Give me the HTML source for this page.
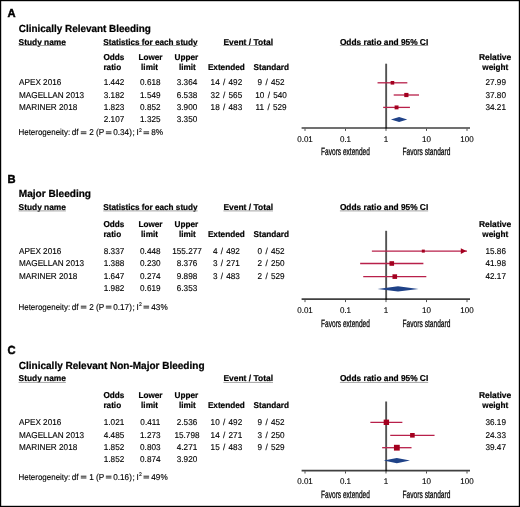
<!DOCTYPE html>
<html><head><meta charset="utf-8"><style>
html,body{margin:0;padding:0;background:#fff;}
svg{display:block;will-change:transform;font-family:"Liberation Sans",sans-serif;}
text{stroke:#000;stroke-width:0.12px;text-rendering:geometricPrecision;}
text[font-weight=bold]{stroke-width:0.2px;}
</style></head><body>
<svg width="520" height="507" viewBox="0 0 520 507">
<rect x="0" y="0" width="520" height="507" fill="#fff"/>
<text transform="translate(7.6,17.4) scale(1,1.042)" font-size="11.2" font-weight="bold" style="stroke-width:0.45px" fill="#000">A</text>
<text transform="translate(18.8,31.9) scale(1,1.042)" font-size="9.9" font-weight="bold" textLength="132.1" lengthAdjust="spacingAndGlyphs" style="stroke-width:0.22px" fill="#000">Clinically Relevant Bleeding</text>
<text transform="translate(18.6,44.5) scale(1,1.042)" font-size="8.2" font-weight="bold" textLength="47.3" lengthAdjust="spacingAndGlyphs" fill="#000">Study name</text>
<line x1="18.6" y1="45.5" x2="65.9" y2="45.5" stroke="#999" stroke-width="0.9"/>
<text transform="translate(103.3,44.5) scale(1,1.042)" font-size="8.2" font-weight="bold" textLength="94.3" lengthAdjust="spacingAndGlyphs" fill="#000">Statistics for each study</text>
<line x1="103.3" y1="45.5" x2="197.6" y2="45.5" stroke="#999" stroke-width="0.9"/>
<text transform="translate(223.4,44.5) scale(1,1.042)" font-size="8.2" font-weight="bold" textLength="49.6" lengthAdjust="spacingAndGlyphs" fill="#000">Event / Total</text>
<line x1="223.4" y1="45.5" x2="273.0" y2="45.5" stroke="#999" stroke-width="0.9"/>
<text transform="translate(339.9,44.5) scale(1,1.042)" font-size="8.2" font-weight="bold" textLength="88.3" lengthAdjust="spacingAndGlyphs" fill="#000">Odds ratio and 95% CI</text>
<line x1="339.9" y1="45.5" x2="428.2" y2="45.5" stroke="#999" stroke-width="0.9"/>
<text transform="translate(103.4,60) scale(1,1.042)" font-size="8.2" font-weight="bold" fill="#000">Odds</text>
<text transform="translate(103.4,69.9) scale(1,1.042)" font-size="8.2" font-weight="bold" fill="#000">ratio</text>
<text transform="translate(150.5,60) scale(1,1.042)" font-size="8.2" font-weight="bold" text-anchor="middle" fill="#000">Lower</text>
<text transform="translate(149.5,69.9) scale(1,1.042)" font-size="8.2" font-weight="bold" text-anchor="middle" fill="#000">limit</text>
<text transform="translate(186.4,60) scale(1,1.042)" font-size="8.2" font-weight="bold" text-anchor="middle" fill="#000">Upper</text>
<text transform="translate(187.3,69.9) scale(1,1.042)" font-size="8.2" font-weight="bold" text-anchor="middle" fill="#000">limit</text>
<text transform="translate(226.3,69.9) scale(1,1.042)" font-size="8.2" font-weight="bold" text-anchor="middle" fill="#000">Extended</text>
<text transform="translate(271.3,69.9) scale(1,1.042)" font-size="8.2" font-weight="bold" text-anchor="middle" fill="#000">Standard</text>
<text transform="translate(495.1,60) scale(1,1.042)" font-size="8.2" font-weight="bold" text-anchor="middle" textLength="32.2" lengthAdjust="spacingAndGlyphs" fill="#000">Relative</text>
<text transform="translate(495.3,69.9) scale(1,1.042)" font-size="8.2" font-weight="bold" text-anchor="middle" fill="#000">weight</text>
<text transform="translate(19.0,85.3) scale(1,1.042)" font-size="8.2" fill="#000">APEX 2016</text>
<text transform="translate(114,85.3) scale(1,1.042)" font-size="8.2" text-anchor="middle" fill="#000">1.442</text>
<text transform="translate(150.3,85.3) scale(1,1.042)" font-size="8.2" text-anchor="middle" fill="#000">0.618</text>
<text transform="translate(187,85.3) scale(1,1.042)" font-size="8.2" text-anchor="middle" fill="#000">3.364</text>
<text transform="translate(226.4,85.3) scale(1,1.042)" font-size="8.2" text-anchor="middle" word-spacing="1" fill="#000">14 / 492</text>
<text transform="translate(271.1,85.3) scale(1,1.042)" font-size="8.2" text-anchor="middle" word-spacing="1" fill="#000">9 / 452</text>
<text transform="translate(495.7,85.3) scale(1,1.042)" font-size="8.2" text-anchor="middle" fill="#000">27.99</text>
<text transform="translate(19.0,97.8) scale(1,1.042)" font-size="8.2" fill="#000">MAGELLAN 2013</text>
<text transform="translate(114,97.8) scale(1,1.042)" font-size="8.2" text-anchor="middle" fill="#000">3.182</text>
<text transform="translate(150.3,97.8) scale(1,1.042)" font-size="8.2" text-anchor="middle" fill="#000">1.549</text>
<text transform="translate(187,97.8) scale(1,1.042)" font-size="8.2" text-anchor="middle" fill="#000">6.538</text>
<text transform="translate(226.4,97.8) scale(1,1.042)" font-size="8.2" text-anchor="middle" word-spacing="1" fill="#000">32 / 565</text>
<text transform="translate(271.1,97.8) scale(1,1.042)" font-size="8.2" text-anchor="middle" word-spacing="1" fill="#000">10 / 540</text>
<text transform="translate(495.7,97.8) scale(1,1.042)" font-size="8.2" text-anchor="middle" fill="#000">37.80</text>
<text transform="translate(19.0,109.9) scale(1,1.042)" font-size="8.2" fill="#000">MARINER 2018</text>
<text transform="translate(114,109.9) scale(1,1.042)" font-size="8.2" text-anchor="middle" fill="#000">1.823</text>
<text transform="translate(150.3,109.9) scale(1,1.042)" font-size="8.2" text-anchor="middle" fill="#000">0.852</text>
<text transform="translate(187,109.9) scale(1,1.042)" font-size="8.2" text-anchor="middle" fill="#000">3.900</text>
<text transform="translate(226.4,109.9) scale(1,1.042)" font-size="8.2" text-anchor="middle" word-spacing="1" fill="#000">18 / 483</text>
<text transform="translate(271.1,109.9) scale(1,1.042)" font-size="8.2" text-anchor="middle" word-spacing="1" fill="#000">11 / 529</text>
<text transform="translate(495.7,109.9) scale(1,1.042)" font-size="8.2" text-anchor="middle" fill="#000">34.21</text>
<text transform="translate(114,122.3) scale(1,1.042)" font-size="8.2" text-anchor="middle" fill="#000">2.107</text>
<text transform="translate(150.3,122.3) scale(1,1.042)" font-size="8.2" text-anchor="middle" fill="#000">1.325</text>
<text transform="translate(187,122.3) scale(1,1.042)" font-size="8.2" text-anchor="middle" fill="#000">3.350</text>
<text transform="translate(18.45,135.2) scale(1,1.042)" font-size="8.2" textLength="51.8" lengthAdjust="spacingAndGlyphs" fill="#000">Heterogeneity:</text>
<text transform="translate(71.7,135.2) scale(1,1.042)" font-size="8.2" fill="#000">df</text>
<text transform="translate(91.5,135.2) scale(1,1.042)" font-size="8.2" text-anchor="middle" fill="#000">2</text>
<text transform="translate(95.9,135.2) scale(1,1.042)" font-size="8.2" fill="#000">(P</text>
<text transform="translate(113.2,135.2) scale(1,1.042)" font-size="8.2" fill="#000">0.34)</text>
<text transform="translate(132.5,135.2) scale(1,1.042)" font-size="8.2" fill="#000">;</text>
<text transform="translate(136.6,135.2) scale(1,1.042)" font-size="8.2" fill="#000">I</text>
<text transform="translate(140.35,131.89999999999998) scale(1,1.042)" font-size="5.0" text-anchor="middle" fill="#000">2</text>
<text transform="translate(151.3,135.2) scale(1,1.042)" font-size="8.2" fill="#000">8%</text>
<rect x="80.80" y="131.20" width="5.6" height="1.3" fill="#555"/>
<rect x="80.80" y="132.90" width="5.6" height="1.3" fill="#555"/>
<rect x="105.85" y="131.20" width="5.6" height="1.3" fill="#555"/>
<rect x="105.85" y="132.90" width="5.6" height="1.3" fill="#555"/>
<rect x="143.50" y="131.20" width="5.6" height="1.3" fill="#555"/>
<rect x="143.50" y="132.90" width="5.6" height="1.3" fill="#555"/>
<line x1="386.15" y1="63.7" x2="386.15" y2="128.7" stroke="#000" stroke-width="1.9" stroke-opacity="0.68"/>
<line x1="301.6" y1="128" x2="470" y2="128" stroke="#000" stroke-width="1.7" stroke-opacity="0.75"/>
<line x1="305.0" y1="128.85" x2="305.0" y2="130.9" stroke="#000" stroke-width="1.0" stroke-opacity="0.7"/>
<text transform="translate(305.0,141.6) scale(1,1.042)" font-size="8.0" text-anchor="middle" fill="#000">0.01</text>
<line x1="345.5" y1="128.85" x2="345.5" y2="130.9" stroke="#000" stroke-width="1.0" stroke-opacity="0.7"/>
<text transform="translate(345.5,141.6) scale(1,1.042)" font-size="8.0" text-anchor="middle" fill="#000">0.1</text>
<line x1="386.0" y1="128.85" x2="386.0" y2="130.9" stroke="#000" stroke-width="1.0" stroke-opacity="0.7"/>
<text transform="translate(386.0,141.6) scale(1,1.042)" font-size="8.0" text-anchor="middle" fill="#000">1</text>
<line x1="426.5" y1="128.85" x2="426.5" y2="130.9" stroke="#000" stroke-width="1.0" stroke-opacity="0.7"/>
<text transform="translate(426.5,141.6) scale(1,1.042)" font-size="8.0" text-anchor="middle" fill="#000">10</text>
<line x1="467.0" y1="128.85" x2="467.0" y2="130.9" stroke="#000" stroke-width="1.0" stroke-opacity="0.7"/>
<text transform="translate(467.0,141.6) scale(1,1.042)" font-size="8.0" text-anchor="middle" fill="#000">100</text>
<text transform="translate(345.5,155.0) scale(1,1.042)" font-size="10.2" text-anchor="middle" textLength="48.8" lengthAdjust="spacingAndGlyphs" style="stroke-width:0.25px" fill="#000">Favors extended</text>
<text transform="translate(426.5,155.0) scale(1,1.042)" font-size="10.2" text-anchor="middle" textLength="47.9" lengthAdjust="spacingAndGlyphs" style="stroke-width:0.25px" fill="#000">Favors standard</text>
<line x1="377.53503324109704" y1="82.8" x2="407.3376674785979" y2="82.8" stroke="#b8204a" stroke-width="1.3"/>
<rect x="390.64" y="81.00" width="3.6" height="3.6" fill="#a3001f"/>
<line x1="393.69708241924786" y1="95" x2="419.0255191078962" y2="95" stroke="#b8204a" stroke-width="1.3"/>
<rect x="404.26" y="92.90" width="4.2" height="4.2" fill="#a3001f"/>
<line x1="383.18280358805134" y1="107.4" x2="409.9381165845732" y2="107.4" stroke="#b8204a" stroke-width="1.3"/>
<rect x="394.61" y="105.45" width="3.9" height="3.9" fill="#a3001f"/>
<path d="M390.95,119.5 L399.11,116.9 L407.26,119.5 L399.11,122.1 Z" fill="#1f4288"/>
<text transform="translate(7.6,182.9) scale(1,1.042)" font-size="11.2" font-weight="bold" style="stroke-width:0.45px" fill="#000">B</text>
<text transform="translate(18.8,197.3) scale(1,1.042)" font-size="9.9" font-weight="bold" textLength="72.2" lengthAdjust="spacingAndGlyphs" style="stroke-width:0.22px" fill="#000">Major Bleeding</text>
<text transform="translate(18.6,209.9) scale(1,1.042)" font-size="8.2" font-weight="bold" textLength="47.3" lengthAdjust="spacingAndGlyphs" fill="#000">Study name</text>
<line x1="18.6" y1="210.9" x2="65.9" y2="210.9" stroke="#999" stroke-width="0.9"/>
<text transform="translate(103.3,209.9) scale(1,1.042)" font-size="8.2" font-weight="bold" textLength="94.3" lengthAdjust="spacingAndGlyphs" fill="#000">Statistics for each study</text>
<line x1="103.3" y1="210.9" x2="197.6" y2="210.9" stroke="#999" stroke-width="0.9"/>
<text transform="translate(223.4,209.9) scale(1,1.042)" font-size="8.2" font-weight="bold" textLength="49.6" lengthAdjust="spacingAndGlyphs" fill="#000">Event / Total</text>
<line x1="223.4" y1="210.9" x2="273.0" y2="210.9" stroke="#999" stroke-width="0.9"/>
<text transform="translate(339.9,209.9) scale(1,1.042)" font-size="8.2" font-weight="bold" textLength="88.3" lengthAdjust="spacingAndGlyphs" fill="#000">Odds ratio and 95% CI</text>
<line x1="339.9" y1="210.9" x2="428.2" y2="210.9" stroke="#999" stroke-width="0.9"/>
<text transform="translate(103.4,226.8) scale(1,1.042)" font-size="8.2" font-weight="bold" fill="#000">Odds</text>
<text transform="translate(103.4,236.5) scale(1,1.042)" font-size="8.2" font-weight="bold" fill="#000">ratio</text>
<text transform="translate(150.5,226.8) scale(1,1.042)" font-size="8.2" font-weight="bold" text-anchor="middle" fill="#000">Lower</text>
<text transform="translate(149.5,236.5) scale(1,1.042)" font-size="8.2" font-weight="bold" text-anchor="middle" fill="#000">limit</text>
<text transform="translate(186.4,226.8) scale(1,1.042)" font-size="8.2" font-weight="bold" text-anchor="middle" fill="#000">Upper</text>
<text transform="translate(187.3,236.5) scale(1,1.042)" font-size="8.2" font-weight="bold" text-anchor="middle" fill="#000">limit</text>
<text transform="translate(226.3,236.5) scale(1,1.042)" font-size="8.2" font-weight="bold" text-anchor="middle" fill="#000">Extended</text>
<text transform="translate(271.3,236.5) scale(1,1.042)" font-size="8.2" font-weight="bold" text-anchor="middle" fill="#000">Standard</text>
<text transform="translate(495.1,226.8) scale(1,1.042)" font-size="8.2" font-weight="bold" text-anchor="middle" textLength="32.2" lengthAdjust="spacingAndGlyphs" fill="#000">Relative</text>
<text transform="translate(495.3,236.5) scale(1,1.042)" font-size="8.2" font-weight="bold" text-anchor="middle" fill="#000">weight</text>
<text transform="translate(19.0,254.2) scale(1,1.042)" font-size="8.2" fill="#000">APEX 2016</text>
<text transform="translate(114,254.2) scale(1,1.042)" font-size="8.2" text-anchor="middle" fill="#000">8.337</text>
<text transform="translate(150.3,254.2) scale(1,1.042)" font-size="8.2" text-anchor="middle" fill="#000">0.448</text>
<text transform="translate(187,254.2) scale(1,1.042)" font-size="8.2" text-anchor="middle" fill="#000">155.277</text>
<text transform="translate(226.4,254.2) scale(1,1.042)" font-size="8.2" text-anchor="middle" word-spacing="1" fill="#000">4 / 492</text>
<text transform="translate(271.1,254.2) scale(1,1.042)" font-size="8.2" text-anchor="middle" word-spacing="1" fill="#000">0 / 452</text>
<text transform="translate(495.7,254.2) scale(1,1.042)" font-size="8.2" text-anchor="middle" fill="#000">15.86</text>
<text transform="translate(19.0,266.4) scale(1,1.042)" font-size="8.2" fill="#000">MAGELLAN 2013</text>
<text transform="translate(114,266.4) scale(1,1.042)" font-size="8.2" text-anchor="middle" fill="#000">1.388</text>
<text transform="translate(150.3,266.4) scale(1,1.042)" font-size="8.2" text-anchor="middle" fill="#000">0.230</text>
<text transform="translate(187,266.4) scale(1,1.042)" font-size="8.2" text-anchor="middle" fill="#000">8.376</text>
<text transform="translate(226.4,266.4) scale(1,1.042)" font-size="8.2" text-anchor="middle" word-spacing="1" fill="#000">3 / 271</text>
<text transform="translate(271.1,266.4) scale(1,1.042)" font-size="8.2" text-anchor="middle" word-spacing="1" fill="#000">2 / 250</text>
<text transform="translate(495.7,266.4) scale(1,1.042)" font-size="8.2" text-anchor="middle" fill="#000">41.98</text>
<text transform="translate(19.0,278.8) scale(1,1.042)" font-size="8.2" fill="#000">MARINER 2018</text>
<text transform="translate(114,278.8) scale(1,1.042)" font-size="8.2" text-anchor="middle" fill="#000">1.647</text>
<text transform="translate(150.3,278.8) scale(1,1.042)" font-size="8.2" text-anchor="middle" fill="#000">0.274</text>
<text transform="translate(187,278.8) scale(1,1.042)" font-size="8.2" text-anchor="middle" fill="#000">9.898</text>
<text transform="translate(226.4,278.8) scale(1,1.042)" font-size="8.2" text-anchor="middle" word-spacing="1" fill="#000">3 / 483</text>
<text transform="translate(271.1,278.8) scale(1,1.042)" font-size="8.2" text-anchor="middle" word-spacing="1" fill="#000">2 / 529</text>
<text transform="translate(495.7,278.8) scale(1,1.042)" font-size="8.2" text-anchor="middle" fill="#000">42.17</text>
<text transform="translate(114,291.2) scale(1,1.042)" font-size="8.2" text-anchor="middle" fill="#000">1.982</text>
<text transform="translate(150.3,291.2) scale(1,1.042)" font-size="8.2" text-anchor="middle" fill="#000">0.619</text>
<text transform="translate(187,291.2) scale(1,1.042)" font-size="8.2" text-anchor="middle" fill="#000">6.353</text>
<text transform="translate(18.45,309.6) scale(1,1.042)" font-size="8.2" textLength="51.8" lengthAdjust="spacingAndGlyphs" fill="#000">Heterogeneity:</text>
<text transform="translate(71.7,309.6) scale(1,1.042)" font-size="8.2" fill="#000">df</text>
<text transform="translate(91.5,309.6) scale(1,1.042)" font-size="8.2" text-anchor="middle" fill="#000">2</text>
<text transform="translate(95.9,309.6) scale(1,1.042)" font-size="8.2" fill="#000">(P</text>
<text transform="translate(113.2,309.6) scale(1,1.042)" font-size="8.2" fill="#000">0.17)</text>
<text transform="translate(132.5,309.6) scale(1,1.042)" font-size="8.2" fill="#000">;</text>
<text transform="translate(136.6,309.6) scale(1,1.042)" font-size="8.2" fill="#000">I</text>
<text transform="translate(140.35,306.3) scale(1,1.042)" font-size="5.0" text-anchor="middle" fill="#000">2</text>
<text transform="translate(151.3,309.6) scale(1,1.042)" font-size="8.2" fill="#000">43%</text>
<rect x="80.80" y="305.60" width="5.6" height="1.3" fill="#555"/>
<rect x="80.80" y="307.30" width="5.6" height="1.3" fill="#555"/>
<rect x="105.85" y="305.60" width="5.6" height="1.3" fill="#555"/>
<rect x="105.85" y="307.30" width="5.6" height="1.3" fill="#555"/>
<rect x="143.50" y="305.60" width="5.6" height="1.3" fill="#555"/>
<rect x="143.50" y="307.30" width="5.6" height="1.3" fill="#555"/>
<line x1="386.15" y1="230.8" x2="386.15" y2="299.9" stroke="#000" stroke-width="1.9" stroke-opacity="0.68"/>
<line x1="301.6" y1="299.2" x2="470" y2="299.2" stroke="#000" stroke-width="1.7" stroke-opacity="0.75"/>
<line x1="305.0" y1="300.05" x2="305.0" y2="302.09999999999997" stroke="#000" stroke-width="1.0" stroke-opacity="0.7"/>
<text transform="translate(305.0,313.2) scale(1,1.042)" font-size="8.0" text-anchor="middle" fill="#000">0.01</text>
<line x1="345.5" y1="300.05" x2="345.5" y2="302.09999999999997" stroke="#000" stroke-width="1.0" stroke-opacity="0.7"/>
<text transform="translate(345.5,313.2) scale(1,1.042)" font-size="8.0" text-anchor="middle" fill="#000">0.1</text>
<line x1="386.0" y1="300.05" x2="386.0" y2="302.09999999999997" stroke="#000" stroke-width="1.0" stroke-opacity="0.7"/>
<text transform="translate(386.0,313.2) scale(1,1.042)" font-size="8.0" text-anchor="middle" fill="#000">1</text>
<line x1="426.5" y1="300.05" x2="426.5" y2="302.09999999999997" stroke="#000" stroke-width="1.0" stroke-opacity="0.7"/>
<text transform="translate(426.5,313.2) scale(1,1.042)" font-size="8.0" text-anchor="middle" fill="#000">10</text>
<line x1="467.0" y1="300.05" x2="467.0" y2="302.09999999999997" stroke="#000" stroke-width="1.0" stroke-opacity="0.7"/>
<text transform="translate(467.0,313.2) scale(1,1.042)" font-size="8.0" text-anchor="middle" fill="#000">100</text>
<text transform="translate(345.5,326.59999999999997) scale(1,1.042)" font-size="10.2" text-anchor="middle" textLength="48.8" lengthAdjust="spacingAndGlyphs" style="stroke-width:0.25px" fill="#000">Favors extended</text>
<text transform="translate(426.5,326.59999999999997) scale(1,1.042)" font-size="10.2" text-anchor="middle" textLength="47.9" lengthAdjust="spacingAndGlyphs" style="stroke-width:0.25px" fill="#000">Favors standard</text>
<line x1="371.8767595669248" y1="251.1" x2="467.0" y2="251.1" stroke="#b8204a" stroke-width="1.3"/>
<path d="M466.4,251.1 L460.8,248.2 L460.8,254.0 Z" fill="#a3001f"/>
<rect x="421.80" y="249.60" width="3.0" height="3.0" fill="#a3001f"/>
<line x1="360.14997735871253" y1="263.5" x2="423.38298508116685" y2="263.5" stroke="#b8204a" stroke-width="1.3"/>
<rect x="389.47" y="261.20" width="4.6" height="4.6" fill="#a3001f"/>
<line x1="363.2288977942257" y1="276.6" x2="426.31967170374304" y2="276.6" stroke="#b8204a" stroke-width="1.3"/>
<rect x="392.48" y="274.30" width="4.6" height="4.6" fill="#a3001f"/>
<path d="M377.56,288.9 L398.03,286.29999999999995 L418.52,288.9 L398.03,291.5 Z" fill="#1f4288"/>
<text transform="translate(7.6,354.2) scale(1,1.042)" font-size="11.2" font-weight="bold" style="stroke-width:0.45px" fill="#000">C</text>
<text transform="translate(18.8,368.7) scale(1,1.042)" font-size="9.9" font-weight="bold" textLength="185.7" lengthAdjust="spacingAndGlyphs" style="stroke-width:0.22px" fill="#000">Clinically Relevant Non-Major Bleeding</text>
<text transform="translate(18.6,381.4) scale(1,1.042)" font-size="8.2" font-weight="bold" textLength="47.3" lengthAdjust="spacingAndGlyphs" fill="#000">Study name</text>
<line x1="18.6" y1="382.4" x2="65.9" y2="382.4" stroke="#999" stroke-width="0.9"/>
<text transform="translate(223.4,381.4) scale(1,1.042)" font-size="8.2" font-weight="bold" textLength="49.6" lengthAdjust="spacingAndGlyphs" fill="#000">Event / Total</text>
<line x1="223.4" y1="382.4" x2="273.0" y2="382.4" stroke="#999" stroke-width="0.9"/>
<text transform="translate(339.9,381.4) scale(1,1.042)" font-size="8.2" font-weight="bold" textLength="88.3" lengthAdjust="spacingAndGlyphs" fill="#000">Odds ratio and 95% CI</text>
<line x1="339.9" y1="382.4" x2="428.2" y2="382.4" stroke="#999" stroke-width="0.9"/>
<text transform="translate(103.4,398) scale(1,1.042)" font-size="8.2" font-weight="bold" fill="#000">Odds</text>
<text transform="translate(103.4,407.7) scale(1,1.042)" font-size="8.2" font-weight="bold" fill="#000">ratio</text>
<text transform="translate(150.5,398) scale(1,1.042)" font-size="8.2" font-weight="bold" text-anchor="middle" fill="#000">Lower</text>
<text transform="translate(149.5,407.7) scale(1,1.042)" font-size="8.2" font-weight="bold" text-anchor="middle" fill="#000">limit</text>
<text transform="translate(186.4,398) scale(1,1.042)" font-size="8.2" font-weight="bold" text-anchor="middle" fill="#000">Upper</text>
<text transform="translate(187.3,407.7) scale(1,1.042)" font-size="8.2" font-weight="bold" text-anchor="middle" fill="#000">limit</text>
<text transform="translate(226.3,407.7) scale(1,1.042)" font-size="8.2" font-weight="bold" text-anchor="middle" fill="#000">Extended</text>
<text transform="translate(271.3,407.7) scale(1,1.042)" font-size="8.2" font-weight="bold" text-anchor="middle" fill="#000">Standard</text>
<text transform="translate(495.1,398) scale(1,1.042)" font-size="8.2" font-weight="bold" text-anchor="middle" textLength="32.2" lengthAdjust="spacingAndGlyphs" fill="#000">Relative</text>
<text transform="translate(495.3,407.7) scale(1,1.042)" font-size="8.2" font-weight="bold" text-anchor="middle" fill="#000">weight</text>
<text transform="translate(19.0,424.6) scale(1,1.042)" font-size="8.2" fill="#000">APEX 2016</text>
<text transform="translate(114,424.6) scale(1,1.042)" font-size="8.2" text-anchor="middle" fill="#000">1.021</text>
<text transform="translate(150.3,424.6) scale(1,1.042)" font-size="8.2" text-anchor="middle" fill="#000">0.411</text>
<text transform="translate(187,424.6) scale(1,1.042)" font-size="8.2" text-anchor="middle" fill="#000">2.536</text>
<text transform="translate(226.4,424.6) scale(1,1.042)" font-size="8.2" text-anchor="middle" word-spacing="1" fill="#000">10 / 492</text>
<text transform="translate(271.1,424.6) scale(1,1.042)" font-size="8.2" text-anchor="middle" word-spacing="1" fill="#000">9 / 452</text>
<text transform="translate(495.7,424.6) scale(1,1.042)" font-size="8.2" text-anchor="middle" fill="#000">36.19</text>
<text transform="translate(19.0,437.7) scale(1,1.042)" font-size="8.2" fill="#000">MAGELLAN 2013</text>
<text transform="translate(114,437.7) scale(1,1.042)" font-size="8.2" text-anchor="middle" fill="#000">4.485</text>
<text transform="translate(150.3,437.7) scale(1,1.042)" font-size="8.2" text-anchor="middle" fill="#000">1.273</text>
<text transform="translate(187,437.7) scale(1,1.042)" font-size="8.2" text-anchor="middle" fill="#000">15.798</text>
<text transform="translate(226.4,437.7) scale(1,1.042)" font-size="8.2" text-anchor="middle" word-spacing="1" fill="#000">14 / 271</text>
<text transform="translate(271.1,437.7) scale(1,1.042)" font-size="8.2" text-anchor="middle" word-spacing="1" fill="#000">3 / 250</text>
<text transform="translate(495.7,437.7) scale(1,1.042)" font-size="8.2" text-anchor="middle" fill="#000">24.33</text>
<text transform="translate(19.0,449.7) scale(1,1.042)" font-size="8.2" fill="#000">MARINER 2018</text>
<text transform="translate(114,449.7) scale(1,1.042)" font-size="8.2" text-anchor="middle" fill="#000">1.852</text>
<text transform="translate(150.3,449.7) scale(1,1.042)" font-size="8.2" text-anchor="middle" fill="#000">0.803</text>
<text transform="translate(187,449.7) scale(1,1.042)" font-size="8.2" text-anchor="middle" fill="#000">4.271</text>
<text transform="translate(226.4,449.7) scale(1,1.042)" font-size="8.2" text-anchor="middle" word-spacing="1" fill="#000">15 / 483</text>
<text transform="translate(271.1,449.7) scale(1,1.042)" font-size="8.2" text-anchor="middle" word-spacing="1" fill="#000">9 / 529</text>
<text transform="translate(495.7,449.7) scale(1,1.042)" font-size="8.2" text-anchor="middle" fill="#000">39.47</text>
<text transform="translate(114,462.4) scale(1,1.042)" font-size="8.2" text-anchor="middle" fill="#000">1.852</text>
<text transform="translate(150.3,462.4) scale(1,1.042)" font-size="8.2" text-anchor="middle" fill="#000">0.874</text>
<text transform="translate(187,462.4) scale(1,1.042)" font-size="8.2" text-anchor="middle" fill="#000">3.920</text>
<text transform="translate(18.45,479.6) scale(1,1.042)" font-size="8.2" textLength="51.8" lengthAdjust="spacingAndGlyphs" fill="#000">Heterogeneity:</text>
<text transform="translate(71.7,479.6) scale(1,1.042)" font-size="8.2" fill="#000">df</text>
<text transform="translate(91.5,479.6) scale(1,1.042)" font-size="8.2" text-anchor="middle" fill="#000">1</text>
<text transform="translate(95.9,479.6) scale(1,1.042)" font-size="8.2" fill="#000">(P</text>
<text transform="translate(113.2,479.6) scale(1,1.042)" font-size="8.2" fill="#000">0.16)</text>
<text transform="translate(132.5,479.6) scale(1,1.042)" font-size="8.2" fill="#000">;</text>
<text transform="translate(136.6,479.6) scale(1,1.042)" font-size="8.2" fill="#000">I</text>
<text transform="translate(140.35,476.3) scale(1,1.042)" font-size="5.0" text-anchor="middle" fill="#000">2</text>
<text transform="translate(151.3,479.6) scale(1,1.042)" font-size="8.2" fill="#000">49%</text>
<rect x="80.80" y="475.60" width="5.6" height="1.3" fill="#555"/>
<rect x="80.80" y="477.30" width="5.6" height="1.3" fill="#555"/>
<rect x="105.85" y="475.60" width="5.6" height="1.3" fill="#555"/>
<rect x="105.85" y="477.30" width="5.6" height="1.3" fill="#555"/>
<rect x="143.50" y="475.60" width="5.6" height="1.3" fill="#555"/>
<rect x="143.50" y="477.30" width="5.6" height="1.3" fill="#555"/>
<line x1="386.15" y1="401.5" x2="386.15" y2="471.3" stroke="#000" stroke-width="1.9" stroke-opacity="0.68"/>
<line x1="301.6" y1="470.6" x2="470" y2="470.6" stroke="#000" stroke-width="1.7" stroke-opacity="0.75"/>
<line x1="305.0" y1="471.45000000000005" x2="305.0" y2="473.5" stroke="#000" stroke-width="1.0" stroke-opacity="0.7"/>
<text transform="translate(305.0,484.2) scale(1,1.042)" font-size="8.0" text-anchor="middle" fill="#000">0.01</text>
<line x1="345.5" y1="471.45000000000005" x2="345.5" y2="473.5" stroke="#000" stroke-width="1.0" stroke-opacity="0.7"/>
<text transform="translate(345.5,484.2) scale(1,1.042)" font-size="8.0" text-anchor="middle" fill="#000">0.1</text>
<line x1="386.0" y1="471.45000000000005" x2="386.0" y2="473.5" stroke="#000" stroke-width="1.0" stroke-opacity="0.7"/>
<text transform="translate(386.0,484.2) scale(1,1.042)" font-size="8.0" text-anchor="middle" fill="#000">1</text>
<line x1="426.5" y1="471.45000000000005" x2="426.5" y2="473.5" stroke="#000" stroke-width="1.0" stroke-opacity="0.7"/>
<text transform="translate(426.5,484.2) scale(1,1.042)" font-size="8.0" text-anchor="middle" fill="#000">10</text>
<line x1="467.0" y1="471.45000000000005" x2="467.0" y2="473.5" stroke="#000" stroke-width="1.0" stroke-opacity="0.7"/>
<text transform="translate(467.0,484.2) scale(1,1.042)" font-size="8.0" text-anchor="middle" fill="#000">100</text>
<text transform="translate(345.5,497.79999999999995) scale(1,1.042)" font-size="10.2" text-anchor="middle" textLength="48.8" lengthAdjust="spacingAndGlyphs" style="stroke-width:0.25px" fill="#000">Favors extended</text>
<text transform="translate(426.5,497.79999999999995) scale(1,1.042)" font-size="10.2" text-anchor="middle" textLength="47.9" lengthAdjust="spacingAndGlyphs" style="stroke-width:0.25px" fill="#000">Favors standard</text>
<line x1="370.3605937859808" y1="422.3" x2="402.36804459299265" y2="422.3" stroke="#b8204a" stroke-width="1.3"/>
<rect x="383.67" y="419.60" width="5.4" height="5.4" fill="#a3001f"/>
<line x1="390.24555034797305" y1="435.3" x2="434.54338543433335" y2="435.3" stroke="#b8204a" stroke-width="1.3"/>
<rect x="410.10" y="433.00" width="4.6" height="4.6" fill="#a3001f"/>
<line x1="382.1409795837866" y1="447.7" x2="411.53644764278636" y2="447.7" stroke="#b8204a" stroke-width="1.3"/>
<rect x="393.94" y="444.80" width="5.8" height="5.8" fill="#a3001f"/>
<path d="M383.63,460.6 L396.84,458.0 L410.03,460.6 L396.84,463.20000000000005 Z" fill="#1f4288"/>
<rect x="0.6" y="0.6" width="518.8" height="505.8" fill="none" stroke="#000" stroke-width="1.2"/>
</svg>
</body></html>
